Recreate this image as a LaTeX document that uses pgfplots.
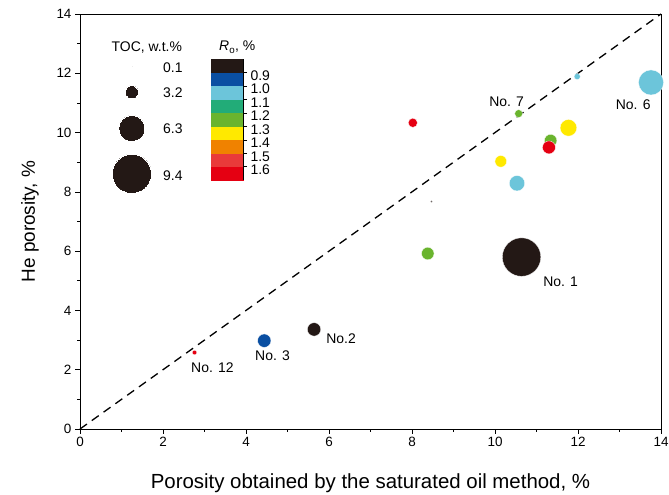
\documentclass[border=0pt]{standalone}
\usepackage{fontspec}
\setmainfont{Liberation Sans}
\usepackage{pgfplots}
\pgfplotsset{compat=1.18}
\pgfkeys{/pgf/number format/assume math mode=true}

\definecolor{c0}{HTML}{231815}
\definecolor{c1}{HTML}{0A4FA2}
\definecolor{c2}{HTML}{6CC5DA}
\definecolor{c3}{HTML}{22AC78}
\definecolor{c4}{HTML}{6AB42E}
\definecolor{c5}{HTML}{FFE900}
\definecolor{c6}{HTML}{F08200}
\definecolor{c7}{HTML}{E93A3A}
\definecolor{c8}{HTML}{E50012}

% x y TOC Ro
\pgfplotstableread{
x     y     toc  ro
10.64 5.80  9.2  0.85
5.64  3.36  3.2  0.85
4.44  2.98  3.2  0.95
2.76  2.58  1.1  1.65
13.76 11.69 6.0  1.05
11.98 11.89 1.5  1.05
10.57 10.64 1.9  1.25
8.02  10.33 2.2  1.65
11.77 10.16 4.0  1.35
11.34 9.73  3.0  1.25
11.30 9.50  3.1  1.65
10.14 9.03  2.8  1.35
10.53 8.29  3.7  1.05
8.38  5.92  3.0  1.25
8.47  7.67  0.1  0.85
}\samples

\pgfplotstableread{
x    y     toc  ro
1.25 12.20 0.1  0.85
1.25 11.36 3.2  0.85
1.25 10.14 6.3  0.85
1.25 8.61  9.4  0.85
}\toclegend

\pgfplotsset{
    tocbubbles/.style={
        scatter, only marks, mark=*,
        point meta=\thisrow{ro},
        scatter/use mapped color={draw=white, fill=mapped color},
        scatter/@pre marker code/.append style={/tikz/mark size=\perpointmarksize},
        visualization depends on={max(0.9,2.1*\thisrow{toc}) \as \perpointmarksize},
    },
}

\begin{document}
\begin{tikzpicture}
\useasboundingbox (0,0) rectangle (669bp,495bp);
\begin{axis}[
    at={(80bp,66bp)}, anchor=south west,
    scale only axis,
    width=581bp, height=415bp,
    xmin=0, xmax=14, ymin=0, ymax=14,
    xtick={0,2,...,14}, ytick={0,2,...,14},
    minor tick num=1,
    tick pos=left, tick align=outside,
    major tick length=5bp, minor tick length=3bp,
    tick style={black, line width=0.6pt},
    axis line style={line width=0.7pt},
    ticklabel style={font=\fontsize{13.5}{15}\selectfont},
    xlabel={Porosity obtained by the saturated oil method, \%},
    ylabel={He porosity, \%},
    xlabel style={font=\fontsize{20.5}{22}\selectfont,
        at={(axis description cs:0.5,-0.13)}, anchor=center},
    ylabel style={font=\fontsize{19}{21}\selectfont,
        at={(axis description cs:-0.086,0.5)}, anchor=center},
    clip=false,
    colormap={ro}{color=(c0) color=(c1) color=(c2) color=(c3) color=(c4)
                  color=(c5) color=(c6) color=(c7) color=(c8)},
    colormap access=piecewise const,
    point meta min=0.8, point meta max=1.7,
    colorbar,
    colorbar style={
        at={(0.2255,0.891)}, anchor=north west,
        width=32bp, height=121bp,
        y dir=reverse,
        ytick={0.9,1.0,...,1.6},
        yticklabel style={font=\fontsize{14}{14}\selectfont, yshift=-3bp,
            /pgf/number format/fixed, /pgf/number format/fixed zerofill,
            /pgf/number format/precision=1},
        tick align=outside, ytick pos=right,
        major tick length=4bp,
        axis x line=none, axis y line*=right,
    },
]
\addplot[black, line width=1.3pt, dash pattern=on 8.5bp off 6bp] coordinates {(0,0) (14,14)};
\addplot[tocbubbles, line width=0.3pt] table[x=x, y=y] {\samples};
\addplot[tocbubbles, line width=0pt] table[x=x, y=y] {\toclegend};

\begin{scope}[font=\fontsize{14}{16}\selectfont]
\node at (axis cs:1.61,12.88) {TOC, w.t.\%};
\node[anchor=west] at (axis cs:1.92,12.20) {0.1};
\node[anchor=west] at (axis cs:1.92,11.36) {3.2};
\node[anchor=west] at (axis cs:1.92,10.14) {6.3};
\node[anchor=west] at (axis cs:1.92,8.55) {9.4};
\node at (axis cs:3.79,12.88) {\textit{R}\textsubscript{o}, \%};
\node at (axis cs:11.58,4.95) {No. 1};
\node at (axis cs:6.29,3.05) {No.2};
\node at (axis cs:4.64,2.47) {No. 3};
\node at (axis cs:3.19,2.07) {No. 12};
\node at (axis cs:10.28,11.05) {No. 7};
\node at (axis cs:13.33,10.95) {No. 6};
\end{scope}
\end{axis}
\end{tikzpicture}
\end{document}
